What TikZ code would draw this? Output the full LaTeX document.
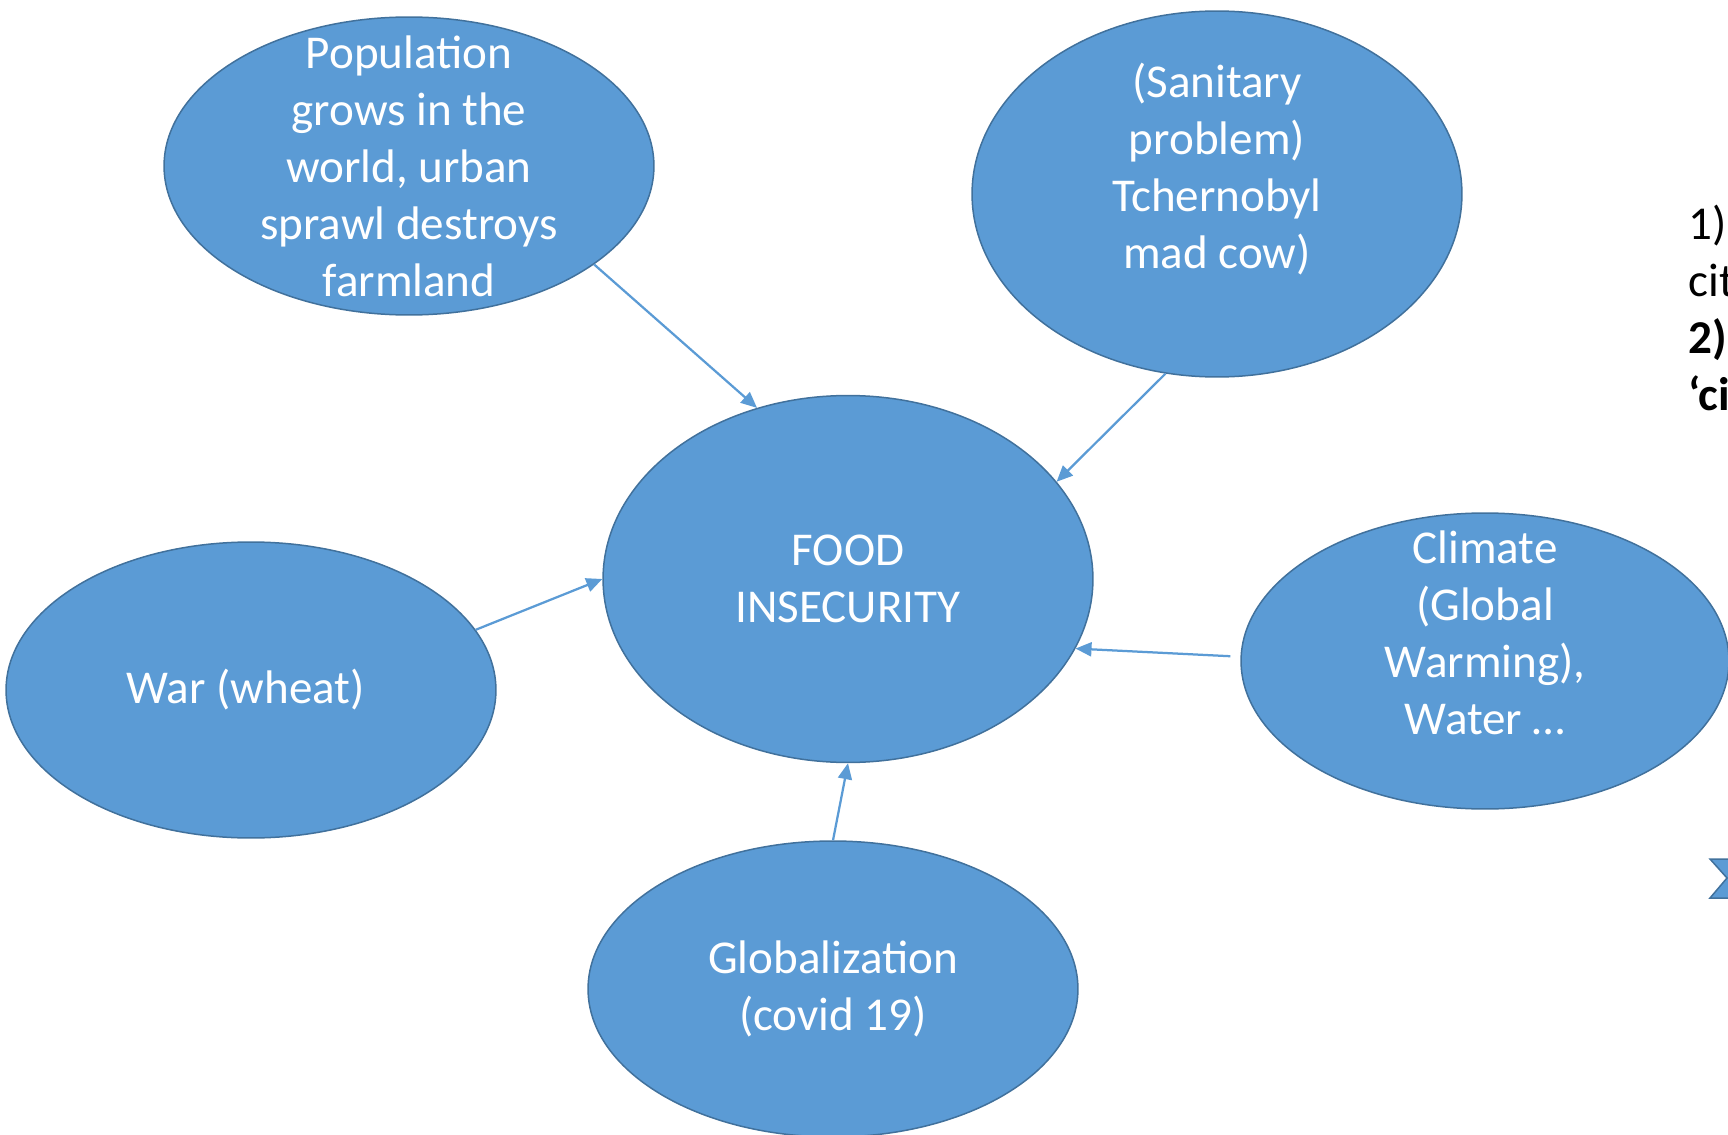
\documentclass[tikz,border=0pt]{standalone}
\usepackage{fontspec}
\setmainfont{Carlito}
\usetikzlibrary{shapes.geometric,arrows.meta}
\definecolor{bubblefill}{HTML}{5B9BD5}
\definecolor{bubbleline}{HTML}{41719C}
\newcommand{\bubblefont}{\fontsize{26.8}{32.4}\selectfont}

\begin{document}
\begin{tikzpicture}[
    x=0.02cm, y=-0.02cm,
    bubble/.style={
        ellipse,
        fill=bubblefill,
        draw=bubbleline,
        line width=0.03cm,
        text=white,
        align=center,
        inner xsep=0pt,
        inner ysep=-1.5cm,
        minimum width=9.8cm,
        font=\bubblefont
      },
    link/.style={
        draw=bubblefill,
        line width=0.045cm,
        -{Triangle[length=0.32cm,width=0.28cm]}
      }
    ]

    \useasboundingbox (0,0) rectangle (1728,1135);

    % ============= CENTRE ==================

    % -------------------------------
    \node[bubble, minimum height=7.34cm] (FI) at (848,579) {
      FOOD\\INSECURITY
    };
    % -------------------------------


    % ============= CAUSES ==================

    % -------------------------------
    \node[bubble, minimum height=5.96cm] (P) at (409,166) {
      Population\\grows in the\\world, urban\\sprawl destroys\\farmland
    };
    % -------------------------------

    % -------------------------------
    \node[bubble, minimum height=7.32cm] (S) at (1217,194) {
      (Sanitary\\problem)\\Tchernobyl\\mad cow)\\\mbox{}
    };
    % -------------------------------

    % -------------------------------
    \node[bubble, minimum height=5.92cm] (W) at (251,690) {
      War (wheat)
    };
    % -------------------------------

    % -------------------------------
    \node[bubble, minimum height=5.92cm, minimum width=9.76cm] (C) at (1485,661) {
      Climate\\(Global\\Warming),\\Water …\\\mbox{}
    };
    % -------------------------------

    % -------------------------------
    \node[bubble, minimum height=5.92cm] (G) at (833,989) {
      Globalization\\(covid 19)
    };
    % -------------------------------


    % ============= MARGE DROITE ==================

    % -------------------------------
    \node[anchor=north west, align=left, inner sep=0pt, font=\bubblefont] (N) at (1688,205) {
      1)\\
      cit\\
      \textbf{2)}\\
      \textbf{‘ci}
    };
    % -------------------------------

    \filldraw[fill=bubblefill, draw=bubbleline, line width=0.03cm]
      (1710,859) -- (1770,859) -- (1790,878) -- (1770,898)
      -- (1710,898) -- (1727,878) -- cycle;

    % ============= FLECHES ==================
    \draw[link] (P.-28) -- (FI.118);
    \draw[link] (S.254) -- (FI.25);
    \draw[link, shorten <=0.2cm] (C.179) -- (FI.-17);
    \draw[link] (W.15) -- (FI.west);
    \draw[link] (G.north) -- (FI.south);

  \end{tikzpicture}
\end{document}
